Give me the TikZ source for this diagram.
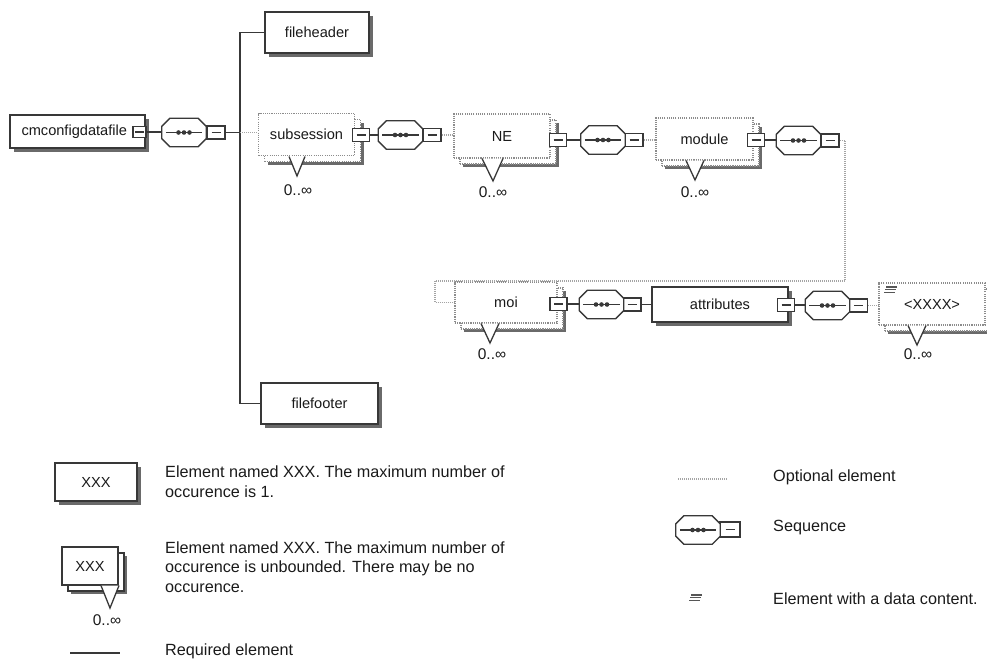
\documentclass[tikz,border=0pt]{standalone}
\usepackage{fontspec}
\setmainfont{Liberation Sans}
\usetikzlibrary{shadows}

\definecolor{edge}{HTML}{383838}
\definecolor{shade}{HTML}{6A6A6A}
\definecolor{optgray}{HTML}{8C8C8C}
\definecolor{optline}{HTML}{A4A4A4}
\definecolor{ink}{HTML}{1A1A1A}

\tikzset{
  lbl/.style={font=\fontsize{14.6}{17}\selectfont, text=ink},
  occ/.style={font=\fontsize{15.5}{17}\selectfont, text=ink, inner sep=0pt},
  legtext/.style={font=\fontsize{16.2}{19.8}\selectfont, text=ink, align=left, anchor=west, inner sep=0pt},
  % element with at most one occurrence
  single/.style={rectangle, draw=edge, line width=1.3pt, fill=white, lbl, inner sep=0pt,
    general shadow={shadow xshift=3.5pt, shadow yshift=-3.5pt, fill=shade}},
  optborder/.style={draw=optgray, line width=1.3pt, dash pattern=on 1.1pt off 1.1pt},
  reqborder/.style={draw=edge, line width=1.3pt},
  % repeatable element, optional (dotted) or required (solid)
  multiopt/.style={rectangle, fill=white, lbl, inner sep=0pt, optborder,
    general shadow={shadow xshift=9pt, shadow yshift=-9pt, fill=shade},
    general shadow={shadow xshift=6pt, shadow yshift=-6pt, fill=white, optborder}},
  multireq/.style={rectangle, fill=white, lbl, inner sep=0pt, reqborder,
    general shadow={shadow xshift=9pt, shadow yshift=-9pt, fill=shade},
    general shadow={shadow xshift=6pt, shadow yshift=-6pt, fill=white, reqborder}},
  % collapse button
  minusbox/.style={rectangle, draw=edge, line width=1.2pt, fill=white,
    minimum width=#1, minimum height=13pt, inner sep=0pt,
    path picture={\draw[edge, line width=1.2pt]
      ([xshift=-4.5pt]path picture bounding box.center) --
      ([xshift=4.5pt]path picture bounding box.center);}},
  minusbox/.default=17pt,
  % sequence compositor: an invisible box, the octagon is drawn over it
  seqbox/.style={rectangle, minimum width=44pt, minimum height=28pt, inner sep=0pt},
  octline/.style={draw=edge, line width=1.3pt, fill=white},
  req/.style={draw=edge, line width=1.5pt},
  opt/.style={draw=optline, line width=1.2pt, dash pattern=on 1pt off 1pt},
  vmark/.style={draw=edge, line width=1.3pt},
  dataicon/.pic={
    \foreach \i in {0,1,2}
      \draw[edge!85, line width=1.3pt] ({2.4-1.2*\i},{2.6*\i}) -- ++(11,0);}
}

\begin{document}
\begin{tikzpicture}[x=1pt, y=-1pt]
\useasboundingbox (0,0) rectangle (987,659);

% ---- root and its sequence
\node[single, minimum width=135pt, minimum height=33pt, text width=112pt, align=left] (cm) at (77.5,131.5) {cmconfigdatafile};
\node[minusbox=13pt, minimum height=11pt] (cmM) at (139.5,132) {};
\node[seqbox] (s1) at (184,132.5) {};
\node[minusbox=18pt] (s1M) at (216,132.5) {};
\coordinate (tr) at (240,132.5);

\node[single, minimum width=104pt, minimum height=41pt] (hdr) at (317,32.5) {fileheader};
\node[single, minimum width=117pt, minimum height=41pt] (ftr) at (319.5,403.5) {filefooter};

% ---- subsession / NE / module chain
\node[multiopt, minimum width=96pt, minimum height=42pt] (sub) at (306.5,134.5) {subsession\hspace{4pt}};
\node[minusbox] (subM) at (361,135) {};
\node[seqbox] (s2) at (400.5,135) {};
\node[minusbox=18pt] (s2M) at (432,135) {};

\node[multiopt, minimum width=96pt, minimum height=44pt] (ne) at (502,136) {NE};
\node[minusbox] (neM) at (558,140) {};
\node[seqbox] (s3) at (603,140) {};
\node[minusbox=18pt] (s3M) at (634,140) {};

\node[multiopt, minimum width=97pt, minimum height=42pt] (mod) at (704.5,139) {module};
\node[minusbox] (modM) at (756,140) {};
\node[seqbox] (s4) at (798.5,140.5) {};
\node[minusbox=18pt] (s4M) at (830,140.5) {};

% ---- moi / attributes / data chain
\node[multiopt, minimum width=102pt, minimum height=41pt] (moi) at (506,302.5) {moi};
\node[minusbox] (moiM) at (558.5,304) {};
\node[seqbox] (s5) at (601.5,304.5) {};
\node[minusbox=18pt] (s5M) at (632,304.5) {};

\node[single, minimum width=136pt, minimum height=35pt] (attr) at (720,304.5) {attributes};
\node[minusbox] (attrM) at (786,305) {};
\node[seqbox] (s6) at (827.5,305.5) {};
\node[minusbox=18pt] (s6M) at (858.5,305.5) {};

\node[multiopt, minimum width=106pt, minimum height=42pt] (dat) at (932,304) {<XXXX>};
\pic at (884,287) {dataicon};

% ---- key: sequence symbol box
\node[seqbox] (k5) at (698,530) {};
\node[minusbox=20pt, minimum height=15pt] (k5M) at (730,529.5) {};

% ---- octagons with the three-dot sequence mark
\foreach \n in {s1,s2,s3,s4,s5,s6,k5} {
  \draw[octline]
    ([xshift=8pt]\n.north west) -- ([xshift=-8pt]\n.north east) --
    ([yshift=-8pt]\n.north east) -- ([yshift=8pt]\n.south east) --
    ([xshift=-8pt]\n.south east) -- ([xshift=8pt]\n.south west) --
    ([yshift=8pt]\n.south west) -- ([yshift=-8pt]\n.north west) -- cycle;
  \draw[edge, line width=1.2pt] ([xshift=4pt]\n.west) -- ([xshift=-4pt]\n.east);
  \foreach \dd in {-5.5,0,5.5}
    \fill[edge] ([xshift=\dd pt]\n.center) circle[radius=2.3pt];
}

% ---- connectors
\draw[req] (cmM.east) -- (cmM.east -| s1.west);
\draw[req] (s1M.east) -- (tr);
\draw[req] (hdr.west) -| (tr) |- (ftr.west);
\draw[opt] (tr) -- (tr -| sub.west);
\draw[req] (subM.east) -- (subM.east -| s2.west);
\draw[opt] (s2M.east) -- (s2M.east -| ne.west);
\draw[req] (neM.east) -- (neM.east -| s3.west);
\draw[opt] (s3M.east) -- (s3M.east -| mod.west);
\draw[req] (modM.east) -- (modM.east -| s4.west);
\coordinate (r1) at (845,281);
\coordinate (r2) at (435,281);
\draw[opt] (s4M.east) -| (r1) -- (r2) |- (moi.west);
\draw[req] (moiM.east) -- (moiM.east -| s5.west);
\draw[req] (s5M.east) -- (s5M.east -| attr.west);
\draw[req] (attrM.east) -- (attrM.east -| s6.west);
\draw[opt] (s6M.east) -- (s6M.east -| dat.west);

% ---- occurrence markers
\fill[white] (289,156.5) -- (297,176) -- (305,156.5) -- cycle;
\draw[vmark] (289,156.5) -- (297,176) -- (305,156.5);
\node[occ] (subN) at (298,190) {0..∞};
\fill[white] (482,158.5) -- (493,181) -- (503,158.5) -- cycle;
\draw[vmark] (482,158.5) -- (493,181) -- (503,158.5);
\node[occ] (neN) at (493,192) {0..∞};
\fill[white] (686,160.5) -- (695,180) -- (704,160.5) -- cycle;
\draw[vmark] (686,160.5) -- (695,180) -- (704,160.5);
\node[occ] (modN) at (695,192) {0..∞};
\fill[white] (481,323.5) -- (490,343) -- (499,323.5) -- cycle;
\draw[vmark] (481,323.5) -- (490,343) -- (499,323.5);
\node[occ] (moiN) at (492,354) {0..∞};
\fill[white] (908,325.5) -- (917,345) -- (926,325.5) -- cycle;
\draw[vmark] (908,325.5) -- (917,345) -- (926,325.5);
\node[occ] (datN) at (918,354) {0..∞};

% ---- key
\node[single, minimum width=82pt, minimum height=38pt] (k1) at (96,482) {XXX};
\node[legtext] (k1t) at (165,482) {Element named XXX. The maximum number of\\occurence is 1.};

\node[multireq, minimum width=56pt, minimum height=38pt] (k2) at (90,566) {XXX};
\fill[white] (101,585.5) -- (110,608) -- (119,585.5) -- cycle;
\draw[vmark] (101,585.5) -- (110,608) -- (119,585.5);
\node[occ] (k2N) at (107,620) {0..∞};
\node[legtext] (k2t) at (165,567) {Element named XXX. The maximum number of\\occurence is unbounded. There may be no\\occurence.};

\coordinate (k3a) at (70,653);
\coordinate (k3b) at (120,653);
\draw[req] (k3a) -- (k3b);
\node[legtext] (k3t) at (165,651) {Required element};

\coordinate (k4a) at (678,479);
\coordinate (k4b) at (728,479);
\draw[opt] (k4a) -- (k4b);
\node[legtext] (k4t) at (773,477) {Optional element};

\node[legtext] (k5t) at (773,528) {Sequence};

\pic at (689,595) {dataicon};
\node[legtext] (k6t) at (773,599) {Element with a data content.};
\end{tikzpicture}
\end{document}
